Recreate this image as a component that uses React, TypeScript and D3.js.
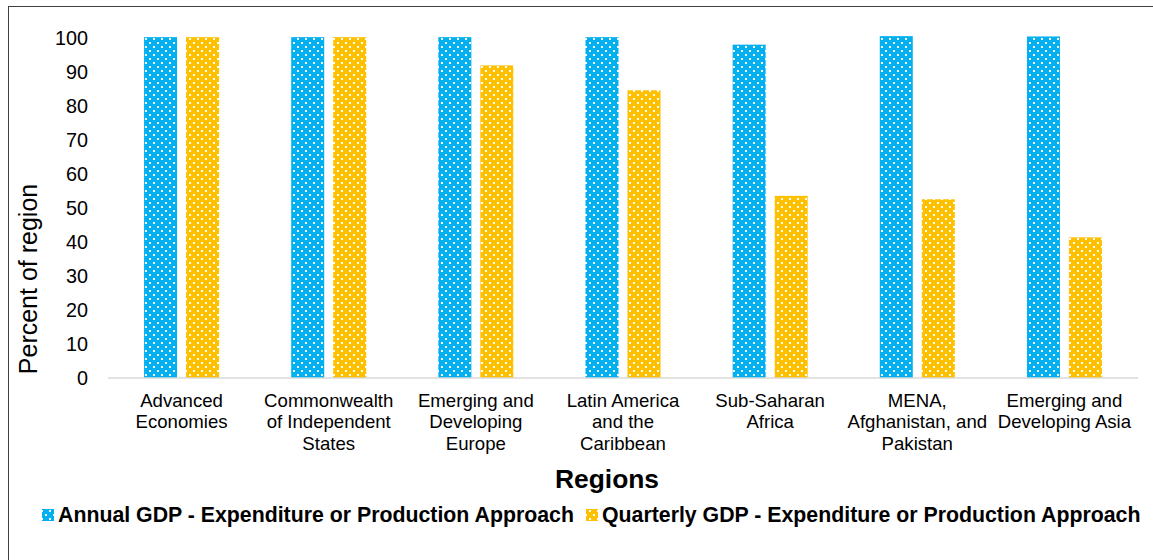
import React from "react";
import * as d3 from "d3";

const categories: string[][] = [
  ["Advanced", "Economies"],
  ["Commonwealth", "of Independent", "States"],
  ["Emerging and", "Developing", "Europe"],
  ["Latin America", "and the", "Caribbean"],
  ["Sub-Saharan", "Africa"],
  ["MENA,", "Afghanistan, and", "Pakistan"],
  ["Emerging and", "Developing Asia"],
];
const annual: number[] = [100.1, 100.1, 100.1, 100.1, 97.9, 100.4, 100.3];
const quarterly: number[] = [100.1, 100.1, 91.8, 84.5, 53.5, 52.5, 41.3];
const yTicks: number[] = [0, 10, 20, 30, 40, 50, 60, 70, 80, 90, 100];
const seriesNames: string[] = [
  "Annual GDP - Expenditure or Production Approach",
  "Quarterly GDP - Expenditure or Production Approach",
];
const colors: string[] = ["#00B0F0", "#FFC000"];

const W = 1153;
const H = 560;
const FONT = "'Liberation Sans', Arial, sans-serif";

export default function App() {
  const x = d3
    .scaleBand<number>()
    .domain(d3.range(categories.length))
    .range([108, 1138]);
  const y = d3.scaleLinear().domain([0, 100]).range([378, 37.5]);
  const barW = 33;
  const offs = [-21, 21];
  const series = [annual, quarterly];

  return (
    <svg
      width={W}
      height={H}
      style={{ position: "fixed", left: 0, top: 0, display: "block", background: "#fff" }}
    >
      <defs>
        <pattern id="p0" patternUnits="userSpaceOnUse" width={8} height={8}>
          <rect width={8} height={8} fill={colors[0]} />
          <rect x={5} y={2} width={2} height={2} fill="#fff" />
          <rect x={1} y={6} width={2} height={2} fill="#fff" />
        </pattern>
        <pattern id="p1" patternUnits="userSpaceOnUse" width={8} height={8}>
          <rect width={8} height={8} fill={colors[1]} />
          <rect x={5} y={6} width={2} height={2} fill="#fff" />
          <rect x={1} y={2} width={2} height={2} fill="#fff" />
        </pattern>
      </defs>
      <rect x={8.5} y={6.5} width={1200} height={700} fill="#fff" stroke="#404040" strokeWidth={1} />

      {series.map((s, si) =>
        s.map((v, i) => {
          const cx = (x(i) as number) + x.bandwidth() / 2 + offs[si];
          return (
            <rect
              key={`b${si}-${i}`}
              x={cx - barW / 2}
              y={y(v)}
              width={barW}
              height={y(0) - y(v)}
              fill={`url(#p${si})`}
            />
          );
        })
      )}

      <line x1={108} x2={1138} y1={y(0)} y2={y(0)} stroke="#d9d9d9" strokeWidth={1.5} />

      {yTicks.map((t) => (
        <text
          key={`t${t}`}
          x={88}
          y={y(t)}
          dy="0.36em"
          textAnchor="end"
          fontFamily={FONT}
          fontSize={19.8}
          fill="#000"
        >
          {t}
        </text>
      ))}

      {categories.map((lines, i) => {
        const cx = (x(i) as number) + x.bandwidth() / 2;
        return (
          <text
            key={`c${i}`}
            textAnchor="middle"
            fontFamily={FONT}
            fontSize={18.6}
            fill="#000"
          >
            {lines.map((l, li) => (
              <tspan key={li} x={cx} y={407 + li * 21.3}>
                {l}
              </tspan>
            ))}
          </text>
        );
      })}

      <text
        transform="translate(36.5,279) rotate(-90)"
        textAnchor="middle"
        fontFamily={FONT}
        fontSize={25}
        fill="#000"
      >
        Percent of region
      </text>

      <text
        x={607}
        y={488}
        textAnchor="middle"
        fontFamily={FONT}
        fontWeight="bold"
        fontSize={26.4}
        fill="#000"
      >
        Regions
      </text>

      {seriesNames.map((n, i) => {
        const mx = [42, 586][i];
        return (
          <g key={`l${i}`}>
            <rect x={mx} y={509} width={12} height={12} fill={`url(#p${i})`} />
            <text
              x={mx + 16}
              y={521.5}
              fontFamily={FONT}
              fontWeight="bold"
              fontSize={21.3}
              fill="#000"
            >
              {n}
            </text>
          </g>
        );
      })}
    </svg>
  );
}
